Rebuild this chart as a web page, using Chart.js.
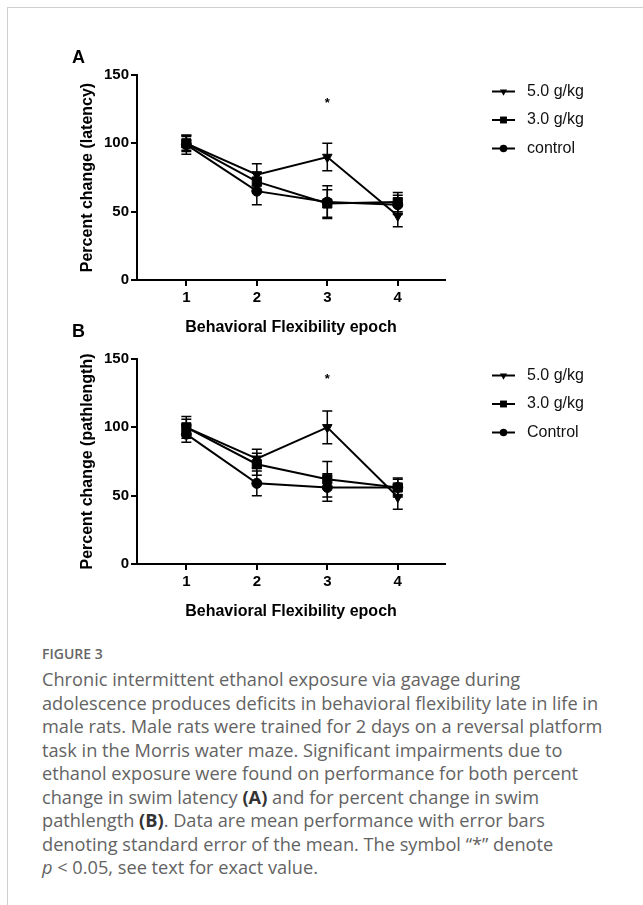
<!DOCTYPE html>
<html>
<head>
<meta charset="utf-8">
<script src="https://cdn.jsdelivr.net/npm/chart.js@4.4.1/dist/chart.umd.min.js"></script>
<style>
html,body{margin:0;padding:0;background:#fff;}
body{width:643px;height:905px;position:relative;overflow:hidden;}
.card{position:absolute;left:7px;top:7px;width:700px;height:1000px;border-left:1.5px solid #cfcfcf;border-top:1.5px solid #cfcfcf;}
canvas{position:absolute;left:0;}
#cA{top:0;}
#cB{top:284px;}
.plab{position:absolute;font:bold 18px/18px "Liberation Sans",Arial,sans-serif;color:#000;}
.fig{position:absolute;left:42px;top:645px;font:600 14px/18px "Open Sans",sans-serif;color:#666;}
.cap{position:absolute;left:42px;top:668px;font:18.2px/23.5px "Open Sans",sans-serif;color:#636363;white-space:nowrap;}
.cap b{color:#333;}
</style>
</head>
<body>
<div class="card"></div>
<canvas id="cA" width="643" height="340"></canvas>
<canvas id="cB" width="643" height="340"></canvas>
<div class="plab" style="left:72px;top:48px;">A</div>
<div class="plab" style="left:72px;top:322px;">B</div>
<div class="fig">FIGURE 3</div>
<div class="cap">Chronic intermittent ethanol exposure via gavage during<br>adolescence produces deficits in behavioral flexibility late in life in<br>male rats. Male rats were trained for 2 days on a reversal platform<br>task in the Morris water maze. Significant impairments due to<br>ethanol exposure were found on performance for both percent<br>change in swim latency <b>(A)</b> and for percent change in swim<br>pathlength <b>(B)</b>. Data are mean performance with error bars<br>denoting standard error of the mean. The symbol “*” denote<br><i>p</i> &lt; 0.05, see text for exact value.</div>
<script>
// ---------------- data ----------------
const epochs = [1, 2, 3, 4];
const xTickValues = [1, 2, 3, 4];
const yTickValues = [0, 50, 100, 150];
const seriesLabelsA = ['5.0 g/kg', '3.0 g/kg', 'control'];
const seriesLabelsB = ['5.0 g/kg', '3.0 g/kg', 'Control'];

const latencyHigh = [100, 77, 90, 47];
const latencyHighSem = [5, 8, 10, 8];
const latencyMid = [100, 72, 56, 57];
const latencyMidSem = [6, 7, 10, 7];
const latencyCtrl = [99, 65, 57, 55];
const latencyCtrlSem = [7, 10, 12, 7];

const pathHigh = [100, 77, 100, 49];
const pathHighSem = [6, 7, 12, 9];
const pathMid = [100, 73, 62, 56];
const pathMidSem = [8, 8, 13, 7];
const pathCtrl = [95, 59, 56, 56];
const pathCtrlSem = [6, 9, 10, 6];

const sigMarkA = [3, 132];
const sigMarkB = [3, 138];

// ---------------- drawing ----------------
const FAM = '"Liberation Sans", Arial, sans-serif';
const markerStyles = [
  {pointStyle: 'triangle', rotation: 180, radius: 5.5},
  {pointStyle: 'rect', rotation: 0, radius: 6.5},
  {pointStyle: 'circle', rotation: 0, radius: 5}
];

function drawMarker(ctx, style, x, y, r, rot) {
  ctx.save();
  ctx.translate(x, y);
  ctx.rotate(rot * Math.PI / 180);
  ctx.beginPath();
  if (style === 'triangle') {
    ctx.moveTo(0, -r);
    ctx.lineTo(r * 0.866, r * 0.5);
    ctx.lineTo(-r * 0.866, r * 0.5);
    ctx.closePath();
  } else if (style === 'rect') {
    const s = r * Math.SQRT1_2;
    ctx.rect(-s, -s, 2 * s, 2 * s);
  } else {
    ctx.arc(0, 0, r, 0, Math.PI * 2);
  }
  ctx.fill();
  ctx.restore();
}

const errorBars = {
  id: 'errorBars',
  afterDatasetsDraw(chart) {
    const {ctx} = chart;
    const xs = chart.scales.x, ys = chart.scales.y;
    ctx.save();
    ctx.strokeStyle = '#000';
    ctx.lineWidth = 1.5;
    chart.data.datasets.forEach(ds => {
      ds.data.forEach((p, j) => {
        const s = ds.sem[j];
        const px = xs.getPixelForValue(p.x);
        const top = ys.getPixelForValue(p.y + s);
        const bot = ys.getPixelForValue(p.y - s);
        ctx.beginPath();
        ctx.moveTo(px, top); ctx.lineTo(px, bot);
        ctx.moveTo(px - 5, top); ctx.lineTo(px + 5, top);
        ctx.moveTo(px - 5, bot); ctx.lineTo(px + 5, bot);
        ctx.stroke();
      });
    });
    ctx.restore();
  }
};

const sigMark = {
  id: 'sigMark',
  afterDatasetsDraw(chart, args, opts) {
    const {ctx} = chart;
    const px = chart.scales.x.getPixelForValue(opts.at[0]);
    const py = chart.scales.y.getPixelForValue(opts.at[1]);
    ctx.save();
    ctx.fillStyle = '#000';
    ctx.font = 'bold 13px ' + FAM;
    ctx.textAlign = 'center';
    ctx.textBaseline = 'alphabetic';
    ctx.fillText('*', px, py + 0.57 * 13);
    ctx.restore();
  }
};

const lineLegend = {
  id: 'lineLegend',
  afterDraw(chart, args, opts) {
    const {ctx, chartArea} = chart;
    ctx.save();
    chart.data.datasets.forEach((ds, i) => {
      const y = chartArea.top + opts.firstOffset + i * opts.spacing;
      ctx.strokeStyle = '#000';
      ctx.lineWidth = 2;
      ctx.beginPath();
      ctx.moveTo(opts.lineStart, y);
      ctx.lineTo(opts.lineEnd, y);
      ctx.stroke();
      ctx.fillStyle = '#000';
      drawMarker(ctx, ds.pointStyle, (opts.lineStart + opts.lineEnd) / 2, y, ds.pointRadius * 0.75, ds.pointRotation);
      ctx.font = '16px ' + FAM;
      ctx.textAlign = 'left';
      ctx.textBaseline = 'middle';
      ctx.fillStyle = '#111';
      ctx.fillText(ds.label, opts.textStart, y);
    });
    ctx.restore();
  }
};

function makeChart(id, labels, means, sems, yTitle, sig) {
  const datasets = means.map((m, i) => ({
    label: labels[i],
    data: epochs.map((e, j) => ({x: e, y: m[j]})),
    sem: sems[i],
    borderColor: '#000',
    backgroundColor: '#000',
    borderWidth: 2,
    pointStyle: markerStyles[i].pointStyle,
    pointRotation: markerStyles[i].rotation,
    pointRadius: markerStyles[i].radius,
    pointBackgroundColor: '#000',
    pointBorderColor: '#000',
    pointBorderWidth: 1,
    tension: 0,
    fill: false
  }));
  const axisGrid = {drawOnChartArea: false, drawTicks: true, tickLength: 6, color: '#000', lineWidth: 2};
  const axisBorder = {display: true, color: '#000', width: 2};
  return new Chart(document.getElementById(id), {
    type: 'line',
    data: {datasets},
    plugins: [errorBars, sigMark, lineLegend],
    options: {
      responsive: false,
      animation: false,
      layout: {padding: {left: 60, top: 75, right: 198, bottom: 0}},
      plugins: {
        legend: {display: false},
        tooltip: {enabled: false},
        sigMark: {at: sig},
        lineLegend: {lineStart: 492, lineEnd: 515, textStart: 527, firstOffset: 16.5, spacing: 28.5}
      },
      scales: {
        x: {
          type: 'linear', min: 0.3, max: 4.67,
          afterBuildTicks: s => { s.ticks = xTickValues.map(v => ({value: v})); },
          afterFit: s => { s.height = 60; },
          grid: axisGrid, border: axisBorder,
          ticks: {color: '#000', font: {family: FAM, size: 15, weight: 'bold'}, padding: 3, maxRotation: 0, autoSkip: false, callback: v => String(v)},
          title: {display: true, text: 'Behavioral Flexibility epoch', color: '#000', font: {family: FAM, size: 16, weight: 'bold'}, padding: {top: 0, bottom: 3}}
        },
        y: {
          type: 'linear', min: 0, max: 150,
          afterBuildTicks: s => { s.ticks = yTickValues.map(v => ({value: v})); },
          afterFit: s => { s.width = 77; },
          grid: axisGrid, border: axisBorder,
          ticks: {color: '#000', font: {family: FAM, size: 15, weight: 'bold'}, padding: 2, callback: v => String(v)},
          title: {display: true, text: yTitle, color: '#000', font: {family: FAM, size: 16, weight: 'bold'}, padding: {top: 18, bottom: 0}}
        }
      }
    }
  });
}

makeChart('cA', seriesLabelsA,
  [latencyHigh, latencyMid, latencyCtrl],
  [latencyHighSem, latencyMidSem, latencyCtrlSem],
  'Percent change (latency)', sigMarkA);
makeChart('cB', seriesLabelsB,
  [pathHigh, pathMid, pathCtrl],
  [pathHighSem, pathMidSem, pathCtrlSem],
  'Percent change (pathlength)', sigMarkB);
</script>
</body>
</html>
